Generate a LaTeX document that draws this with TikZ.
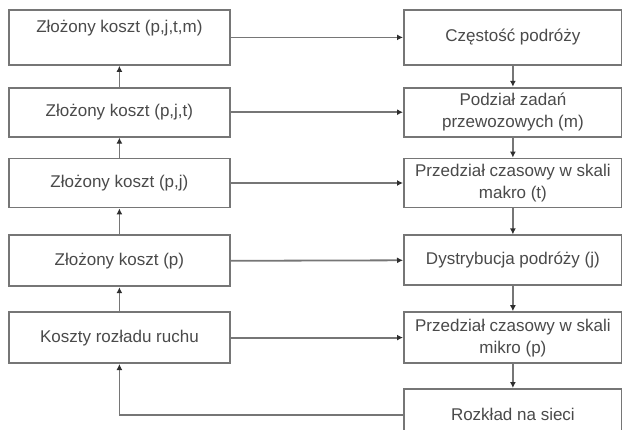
\documentclass[tikz,border=0pt]{standalone}
\usepackage{fontspec}
\setmainfont{Liberation Sans}
\usetikzlibrary{arrows.meta,positioning}
\definecolor{ink}{HTML}{4A4A4A}
\definecolor{edge}{HTML}{767676}
\definecolor{tip}{HTML}{2E2E2E}
\tikzset{
  box/.style={draw=edge,fill=white,line width=1.8pt,align=center,inner sep=2pt,
    font=\fontsize{17}{22}\selectfont,text=ink,minimum height=49pt},
  lbox/.style={box,minimum width=221pt},
  rbox/.style={box,minimum width=218pt},
  flow/.style={-{Latex[length=6pt,width=6pt,color=tip]},line width=1.8pt,color=edge},
  link/.style={line width=1.8pt,color=edge}
}

\begin{document}
\begin{tikzpicture}[x=1pt,y=1pt]
  \useasboundingbox (0,0) rectangle (622,-429);
  % left column, cost chain
  \node[lbox,minimum height=55pt,anchor=north west] (l1) at (8,-9)
    {Złożony koszt (p,j,t,m)\\\mbox{}};
  \node[lbox,below=21pt of l1] (l2) {Złożony koszt (p,j,t)};
  \node[lbox,below=20pt of l2] (l3) {Złożony koszt (p,j)};
  \node[lbox,minimum height=51pt,below=26pt of l3] (l4) {Złożony koszt (p)};
  \node[lbox,minimum height=51pt,below=24pt of l4] (l5) {Koszty rozładu ruchu};
  % right column, model steps
  \node[rbox,minimum height=55pt,anchor=north west] (r1) at (403,-9) {Częstość podróży};
  \node[rbox,below=21pt of r1] (r2) {Podział zadań\\przewozowych (m)};
  \node[rbox,below=20pt of r2] (r3) {Przedział czasowy w skali\\makro (t)};
  \node[rbox,minimum height=50pt,below=26pt of r3] (r4) {Dystrybucja podróży (j)};
  \node[rbox,minimum height=51pt,below=25pt of r4] (r5) {Przedział czasowy w skali\\mikro (p)};
  \node[rbox,minimum height=52pt,below=24pt of r5] (r6) {Rozkład na sieci};
  \foreach \a/\b in {l2/l1,l3/l2,l4/l3,l5/l4}{
    \draw[flow] (\a) -- (\b);
  }
  \foreach \a/\b in {r1/r2,r2/r3,r3/r4,r4/r5,r5/r6}{
    \draw[flow] (\a) -- (\b);
  }
  \foreach \i in {1,...,5}{
    \draw[flow] (l\i.east) -- (r\i.west);
  }
  % feedback from network assignment
  \draw[flow] (r6.west) -| (l5.south);
\end{tikzpicture}
\end{document}
